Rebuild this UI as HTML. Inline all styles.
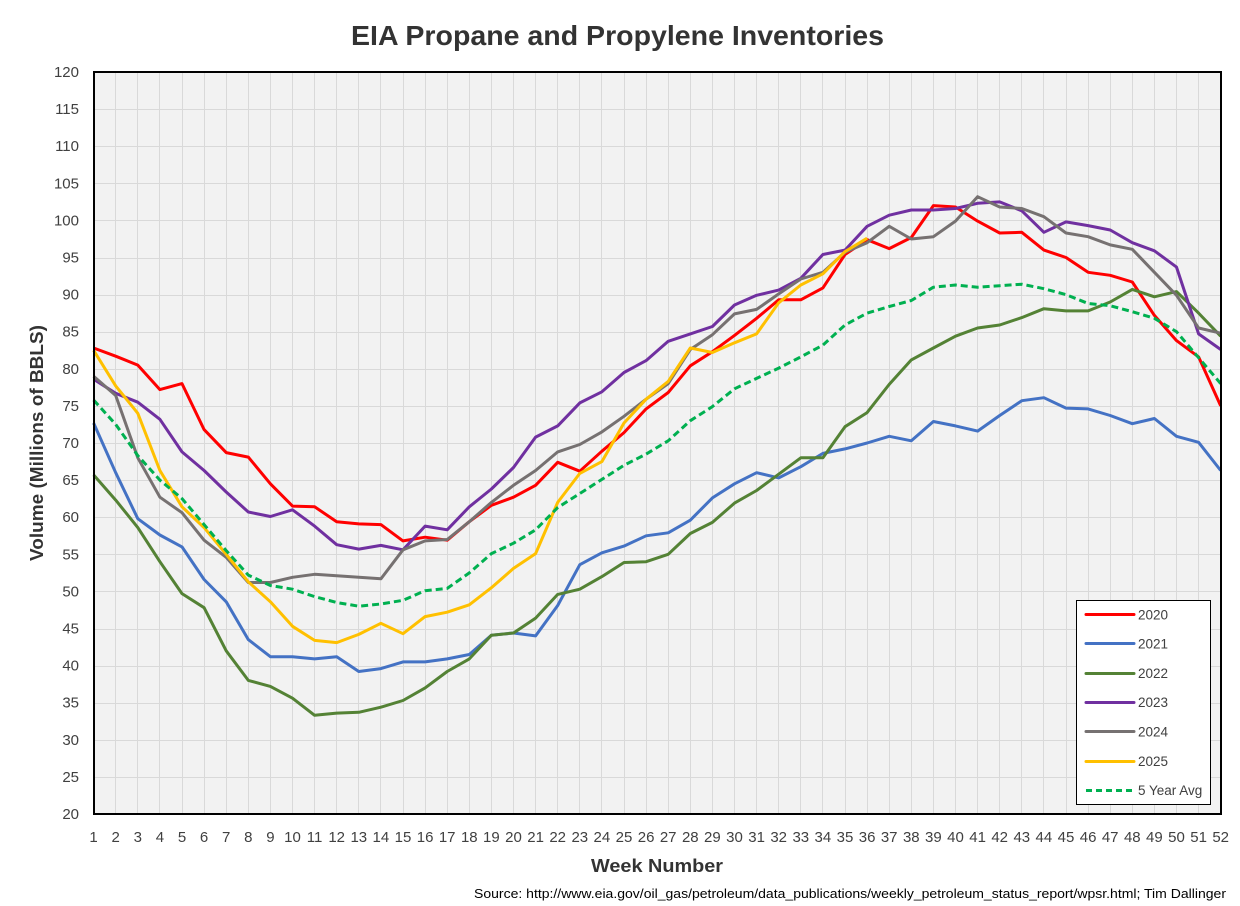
<!DOCTYPE html>
<html lang="en">
<head>
<meta charset="utf-8">
<title>EIA Propane and Propylene Inventories</title>
<style>
html,body{margin:0;padding:0;background:#fff;width:1240px;height:906px;overflow:hidden}
svg{display:block}
text{font-family:"Liberation Sans",sans-serif}
</style>
</head>
<body>
<svg id="chart" width="1240" height="906" viewBox="0 0 1240 906" xmlns="http://www.w3.org/2000/svg">
  <rect x="0" y="0" width="1240" height="906" fill="#ffffff"/>
  <text x="351" y="45" font-size="28" font-weight="bold" fill="#333333" textLength="533" lengthAdjust="spacingAndGlyphs">EIA Propane and Propylene Inventories</text>
  <rect x="94" y="72" width="1127" height="742" fill="#f2f2f2"/>
  <g id="grid"></g>
  <g id="series"></g>
  <rect x="94" y="72" width="1127" height="742" fill="none" stroke="#000000" stroke-width="2"/>
  <g id="yTicks"></g>
  <g id="xTicks"></g>
  <text transform="translate(43,561) rotate(-90)" font-size="18" font-weight="bold" fill="#333333" textLength="236" lengthAdjust="spacingAndGlyphs">Volume (Millions of BBLS)</text>
  <text x="591" y="872" font-size="18" font-weight="bold" fill="#333333" textLength="132" lengthAdjust="spacingAndGlyphs">Week Number</text>
  <text x="474" y="898" font-size="13" fill="#000000" textLength="752" lengthAdjust="spacingAndGlyphs">Source: http://www.eia.gov/oil_gas/petroleum/data_publications/weekly_petroleum_status_report/wpsr.html; Tim Dallinger</text>
  <g>
    <rect x="1076.5" y="600.5" width="134" height="204" fill="#ffffff" stroke="#000000" stroke-width="1"/>
    <g><line x1="1086" x2="1134" y1="614.5" y2="614.5" stroke="#ff0000" stroke-width="3" stroke-linecap="round"/><text x="1138" y="619.5" font-size="13.5" fill="#404040">2020</text></g>
    <g><line x1="1086" x2="1134" y1="643.5" y2="643.5" stroke="#4472c4" stroke-width="3" stroke-linecap="round"/><text x="1138" y="648.5" font-size="13.5" fill="#404040">2021</text></g>
    <g><line x1="1086" x2="1134" y1="673.5" y2="673.5" stroke="#548235" stroke-width="3" stroke-linecap="round"/><text x="1138" y="678" font-size="13.5" fill="#404040">2022</text></g>
    <g><line x1="1086" x2="1134" y1="702.5" y2="702.5" stroke="#7030a0" stroke-width="3" stroke-linecap="round"/><text x="1138" y="707" font-size="13.5" fill="#404040">2023</text></g>
    <g><line x1="1086" x2="1134" y1="731.5" y2="731.5" stroke="#767171" stroke-width="3" stroke-linecap="round"/><text x="1138" y="736.5" font-size="13.5" fill="#404040">2024</text></g>
    <g><line x1="1086" x2="1134" y1="761.5" y2="761.5" stroke="#ffc000" stroke-width="3" stroke-linecap="round"/><text x="1138" y="766" font-size="13.5" fill="#404040">2025</text></g>
    <g><line x1="1086" x2="1134" y1="790.5" y2="790.5" stroke="#00b050" stroke-width="3" stroke-dasharray="6 4"/><text x="1138" y="795" font-size="13.5" fill="#404040">5 Year Avg</text></g>
  </g>
</svg>
<script>
const weeks = [1,2,3,4,5,6,7,8,9,10,11,12,13,14,15,16,17,18,19,20,21,22,23,24,25,26,27,28,29,30,31,32,33,34,35,36,37,38,39,40,41,42,43,44,45,46,47,48,49,50,51,52];
const yTickValues = [20,25,30,35,40,45,50,55,60,65,70,75,80,85,90,95,100,105,110,115,120];
const values2020 = [82.8,81.7,80.5,77.2,78.0,71.8,68.7,68.1,64.5,61.5,61.4,59.4,59.1,59.0,56.8,57.3,56.9,59.4,61.6,62.7,64.3,67.4,66.2,68.9,71.4,74.6,76.8,80.4,82.3,84.5,86.8,89.3,89.3,90.9,95.4,97.4,96.2,97.7,102.0,101.8,99.9,98.3,98.4,96.0,95.0,93.0,92.6,91.7,87.2,83.8,81.6,75.0];
const values2021 = [72.7,66.0,59.8,57.6,56.0,51.6,48.6,43.5,41.2,41.2,40.9,41.2,39.2,39.6,40.5,40.5,40.9,41.5,44.1,44.4,44.0,48.1,53.6,55.2,56.1,57.5,57.9,59.6,62.6,64.5,66.0,65.3,66.8,68.6,69.2,70.0,70.9,70.3,72.9,72.3,71.6,73.7,75.7,76.1,74.7,74.6,73.7,72.6,73.3,70.9,70.1,66.3];
const values2022 = [65.7,62.3,58.6,54.0,49.7,47.8,42.0,38.0,37.2,35.6,33.3,33.6,33.7,34.4,35.3,37.0,39.2,40.9,44.1,44.4,46.4,49.6,50.3,52.0,53.9,54.0,55.0,57.8,59.3,61.9,63.6,65.8,68.0,68.0,72.2,74.1,77.9,81.2,82.8,84.4,85.5,85.9,86.9,88.1,87.8,87.8,89.0,90.7,89.7,90.4,87.5,84.4];
const values2023 = [78.6,76.7,75.5,73.2,68.8,66.3,63.4,60.7,60.1,61.0,58.8,56.3,55.7,56.2,55.6,58.8,58.3,61.4,63.8,66.7,70.8,72.3,75.4,76.9,79.5,81.1,83.7,84.7,85.7,88.6,89.9,90.6,92.2,95.4,96.0,99.2,100.7,101.4,101.4,101.6,102.3,102.5,101.3,98.4,99.8,99.3,98.7,97.0,95.9,93.7,84.7,82.6];
const values2024 = [79.0,76.4,68.0,62.7,60.6,56.9,54.6,51.2,51.2,51.9,52.3,52.1,51.9,51.7,55.6,56.8,57.0,59.4,62.0,64.3,66.3,68.8,69.8,71.5,73.6,75.9,78.0,82.6,84.6,87.4,88.0,90.1,92.1,93.0,95.7,97.0,99.2,97.5,97.8,99.9,103.2,101.8,101.6,100.5,98.3,97.8,96.7,96.1,93.0,89.9,85.5,84.8];
const values2025 = [82.5,77.7,74.0,66.3,61.4,58.6,55.0,51.3,48.6,45.3,43.4,43.1,44.2,45.7,44.3,46.6,47.2,48.2,50.5,53.1,55.1,62.0,65.9,67.5,72.7,75.9,78.3,82.8,82.2,83.5,84.7,88.9,91.3,92.8,95.8,97.6];
const valuesAvg = [75.8,72.5,68.3,65.0,62.5,59.0,55.5,52.2,50.8,50.3,49.3,48.5,48.0,48.3,48.8,50.1,50.4,52.5,55.1,56.5,58.3,61.3,63.2,65.1,67.0,68.5,70.3,73.0,74.9,77.3,78.7,80.1,81.6,83.2,85.9,87.5,88.4,89.2,91.0,91.3,91.0,91.2,91.4,90.8,90.0,88.8,88.5,87.7,86.8,85.0,81.5,78.0];

const NS = 'http://www.w3.org/2000/svg';
const plot = {left: 93.6, right: 1220.7, top: 72, bottom: 814};
const xScale = w => plot.left + (w - 1) * (plot.right - plot.left) / 51;
const yScale = v => plot.bottom - (v - 20) * (plot.bottom - plot.top) / 100;

const grid = document.getElementById('grid');
const yTickGroup = document.getElementById('yTicks');
const xTickGroup = document.getElementById('xTicks');
const seriesGroup = document.getElementById('series');

yTickValues.forEach(v => {
  const y = Math.round(yScale(v)) + 0.5;
  const line = document.createElementNS(NS, 'line');
  
  
  line.setAttribute('x1', 94);
  line.setAttribute('x2', 1221);
  line.setAttribute('y1', y);
  line.setAttribute('y2', y);
  line.setAttribute('stroke', '#d9d9d9');
  line.setAttribute('stroke-width', '1');
  grid.appendChild(line);
  const label = document.createElementNS(NS, 'text');
  
  
  label.setAttribute('x', 79);
  label.setAttribute('y', yScale(v) + 5);
  label.setAttribute('text-anchor', 'end');
  label.setAttribute('font-size', '15');
  label.setAttribute('fill', '#404040');
  label.textContent = v;
  yTickGroup.appendChild(label);
});

weeks.forEach(w => {
  const x = Math.floor(xScale(w)) + 0.5;
  const line = document.createElementNS(NS, 'line');
  
  
  line.setAttribute('x1', x);
  line.setAttribute('x2', x);
  line.setAttribute('y1', plot.top);
  line.setAttribute('y2', plot.bottom);
  line.setAttribute('stroke', '#d9d9d9');
  line.setAttribute('stroke-width', '1');
  grid.appendChild(line);
  const label = document.createElementNS(NS, 'text');
  
  
  label.setAttribute('x', xScale(w));
  label.setAttribute('y', 842);
  label.setAttribute('text-anchor', 'middle');
  label.setAttribute('font-size', '15');
  label.setAttribute('fill', '#404040');
  label.textContent = w;
  xTickGroup.appendChild(label);
});

function drawSeries(values, color, name, dash) {
  const line = document.createElementNS(NS, 'polyline');
  
  
  line.setAttribute('points', values.map((v, i) => xScale(weeks[i]).toFixed(1) + ',' + yScale(v).toFixed(1)).join(' '));
  line.setAttribute('fill', 'none');
  line.setAttribute('stroke', color);
  line.setAttribute('stroke-width', '3');
  line.setAttribute('stroke-linejoin', 'round');
  if (dash) line.setAttribute('stroke-dasharray', dash);
  seriesGroup.appendChild(line);
}

drawSeries(values2020, '#ff0000', 'line-2020');
drawSeries(values2021, '#4472c4', 'line-2021');
drawSeries(values2022, '#548235', 'line-2022');
drawSeries(values2023, '#7030a0', 'line-2023');
drawSeries(values2024, '#767171', 'line-2024');
drawSeries(values2025, '#ffc000', 'line-2025');
drawSeries(valuesAvg, '#00b050', 'line-5-year-avg', '7 4');
</script>
</body>
</html>
